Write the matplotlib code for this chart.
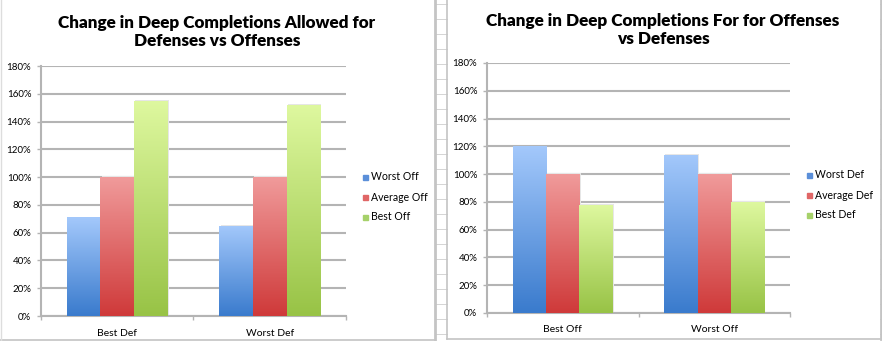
import numpy as np
import matplotlib.pyplot as plt
from matplotlib.colors import LinearSegmentedColormap
from matplotlib.patches import Rectangle

W, H = 882, 341

# data
left_groups = ["Best Def", "Worst Def"]
left_series = ["Worst Off", "Average Off", "Best Off"]
left_worst = [71, 65]
left_avg = [100, 100]
left_best = [155, 152]

right_groups = ["Best Off", "Worst Off"]
right_series = ["Worst Def", "Average Def", "Best Def"]
right_worst = [120, 114]
right_avg = [100, 100]
right_best = [78, 80]

yticks = [0, 20, 40, 60, 80, 100, 120, 140, 160, 180]

# gradient colours (top, bottom) and legend colour for each series
grads = [("#a3c8fb", "#3a7bcd"), ("#f09a9a", "#cf3a3a"), ("#def89f", "#98c346")]
solid = ["#5b8fd9", "#e06666", "#a6d16a"]
grid_c = "#b4b4b4"

plt.rcParams['font.family'] = ['Lato', 'DejaVu Sans']

fig = plt.figure(figsize=(W / 100, H / 100), dpi=100)
fig.patch.set_facecolor("white")


def fx(x):
    return x / W


def fy(y):
    return 1 - y / H


# spreadsheet background in the gap and edges
bg = fig.add_axes([0, 0, 1, 1])
bg.set_xlim(0, W)
bg.set_ylim(H, 0)
bg.axis("off")
for yy in np.arange(4, H, 15):
    bg.plot([436, 447], [yy, yy], color="#d4d4d4", lw=0.7)
    bg.plot([880, 882], [yy, yy], color="#d4d4d4", lw=0.7)
bg.plot([0, 434], [339.5, 339.5], color="#c4c4c4", lw=1.2)
bg.plot([447, 880], [338.5, 338.5], color="#c4c4c4", lw=1.2)
bg.plot([434.5, 434.5], [0, 340], color="#c4c4c4", lw=2)
bg.plot([447, 447], [0, 339], color="#c4c4c4", lw=1.2)
bg.plot([880.5, 880.5], [0, 339], color="#c4c4c4", lw=2)
bg.plot([1, 1], [0, 340], color="#dddddd", lw=1)


def chart(rect, title, title_xy, groups, names, vals, leg_x, leg_y):
    ax = fig.add_axes(rect)
    x = np.arange(len(groups))
    bw = 0.22
    for i, (v, (ct, cb)) in enumerate(zip(vals, grads)):
        cmap = LinearSegmentedColormap.from_list("g", [cb, ct])
        bars = ax.bar(x + (i - 1) * bw, v, bw, color="none", zorder=3)
        for b in bars:
            # soft shadow
            ax.add_patch(Rectangle((b.get_x() + 0.008, 0), b.get_width(), b.get_height() + 0.6,
                                   color="#e6e6e6", zorder=2, lw=0))
            img = ax.imshow(np.linspace(0, 1, 100).reshape(-1, 1), cmap=cmap, aspect="auto",
                            origin="lower", extent=[b.get_x(), b.get_x() + b.get_width(),
                                                    0, b.get_height()], zorder=3)
            img.set_clip_path(b)
    ax.set_xlim(-0.5, len(groups) - 0.5)
    ax.set_ylim(0, 180)
    ax.set_yticks(yticks)
    ax.set_yticklabels([f"{t}%" for t in yticks])
    ax.set_xticks(x)
    ax.set_xticklabels(groups)
    ax.set_xticks([-0.5, 0.5, 1.5], minor=True)
    ax.tick_params(axis="x", which="major", length=0, labelsize=7.5, pad=9)
    ax.tick_params(axis="x", which="minor", length=3, color=grid_c, width=1)
    ax.tick_params(axis="y", length=3, color=grid_c, width=1, labelsize=7, pad=4)
    ax.yaxis.grid(True, color=grid_c, lw=1.5)
    ax.set_axisbelow(True)
    for s in ["top", "right"]:
        ax.spines[s].set_visible(False)
    for s in ["left", "bottom"]:
        ax.spines[s].set_color(grid_c)
        ax.spines[s].set_linewidth(1.5)
    fig.text(fx(title_xy[0]), fy(title_xy[1]), title, ha="center", va="center",
             fontsize=12.3, fontweight="heavy", linespacing=1.2)
    for i, n in enumerate(names):
        yy = leg_y + i * 20
        fig.patches.append(Rectangle((fx(leg_x), fy(yy + 2.5)), 5 / W, 5 / H,
                                     transform=fig.transFigure, color=solid[i], figure=fig))
        fig.text(fx(leg_x + 8), fy(yy), n, ha="left", va="center", fontsize=7.6)
    return ax


chart([fx(41), fy(316), fx(305), 250 / H],
      "Change in Deep Completions Allowed for\nDefenses vs Offenses", (217, 32),
      left_groups, left_series, [left_worst, left_avg, left_best], 363, 177)

chart([fx(487), fy(313), fx(303), 250 / H],
      "Change in Deep Completions For for Offenses\nvs Defenses", (663, 30),
      right_groups, right_series, [right_worst, right_avg, right_best], 807, 175)

fig.savefig("out.png", dpi=100)
